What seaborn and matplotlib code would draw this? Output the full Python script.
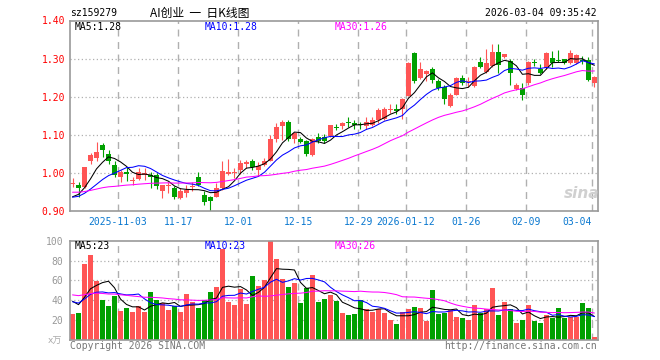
import numpy as np
import pandas as pd
import matplotlib
matplotlib.use('Agg')
import matplotlib.pyplot as plt
import seaborn as sns

# daily K data, 2025-10-22 .. 2026-03-04 (88 sessions)
open_ = [0.972, 0.969, 0.963, 1.033, 1.040, 1.073, 1.051, 1.022, 0.990, 1.002,
         0.980, 0.984, 0.994, 0.996, 0.995, 0.952, 0.966, 0.962, 0.934, 0.948,
         0.963, 0.989, 0.943, 0.938, 0.938, 0.961, 0.998, 1.000, 1.008, 1.025,
         1.031, 1.009, 1.022, 1.033, 1.090, 1.123, 1.133, 1.089, 1.089, 1.083,
         1.048, 1.095, 1.094, 1.098, 1.121, 1.124, 1.134, 1.132, 1.127, 1.124,
         1.127, 1.138, 1.143, 1.166, 1.168, 1.168, 1.203, 1.314, 1.250, 1.259,
         1.272, 1.242, 1.225, 1.177, 1.206, 1.250, 1.238, 1.229, 1.292, 1.264,
         1.281, 1.318, 1.305, 1.295, 1.221, 1.224, 1.237, 1.292, 1.274, 1.276,
         1.301, 1.297, 1.298, 1.289, 1.289, 1.297, 1.296, 1.237]
high = [0.987, 0.976, 1.017, 1.054, 1.081, 1.080, 1.061, 1.031, 1.009, 1.016,
        0.989, 1.013, 1.013, 1.004, 1.000, 0.970, 0.976, 0.965, 0.961, 0.969,
        0.978, 1.002, 0.952, 0.940, 0.974, 1.031, 1.038, 1.013, 1.034, 1.035,
        1.037, 1.028, 1.039, 1.101, 1.132, 1.138, 1.138, 1.109, 1.095, 1.086,
        1.092, 1.105, 1.102, 1.127, 1.129, 1.135, 1.147, 1.138, 1.134, 1.147,
        1.147, 1.171, 1.174, 1.180, 1.180, 1.197, 1.291, 1.318, 1.292, 1.270,
        1.279, 1.247, 1.230, 1.209, 1.252, 1.256, 1.252, 1.282, 1.305, 1.326,
        1.338, 1.338, 1.313, 1.299, 1.235, 1.237, 1.293, 1.300, 1.285, 1.318,
        1.320, 1.322, 1.300, 1.324, 1.311, 1.307, 1.305, 1.255]
low = [0.963, 0.938, 0.960, 1.023, 1.033, 1.042, 1.024, 0.989, 0.976, 0.980,
       0.969, 0.982, 0.982, 0.960, 0.958, 0.936, 0.949, 0.932, 0.932, 0.938,
       0.952, 0.965, 0.917, 0.902, 0.937, 0.957, 0.996, 0.987, 0.998, 1.013,
       1.007, 0.993, 1.020, 1.031, 1.081, 1.088, 1.083, 1.079, 1.080, 1.044,
       1.045, 1.079, 1.080, 1.096, 1.112, 1.115, 1.122, 1.115, 1.115, 1.115,
       1.124, 1.131, 1.140, 1.158, 1.155, 1.143, 1.202, 1.235, 1.248, 1.241,
       1.237, 1.219, 1.180, 1.173, 1.204, 1.230, 1.225, 1.225, 1.276, 1.262,
       1.279, 1.263, 1.302, 1.232, 1.219, 1.191, 1.232, 1.280, 1.259, 1.274,
       1.279, 1.290, 1.286, 1.285, 1.287, 1.285, 1.241, 1.226]
close = [0.975, 0.962, 1.015, 1.048, 1.056, 1.061, 1.033, 0.994, 1.003, 0.998,
         0.983, 1.004, 1.000, 0.990, 0.965, 0.969, 0.970, 0.938, 0.954, 0.956,
         0.966, 0.969, 0.925, 0.928, 0.961, 1.006, 1.002, 1.003, 1.027, 1.028,
         1.015, 1.020, 1.033, 1.089, 1.122, 1.133, 1.089, 1.105, 1.082, 1.051,
         1.089, 1.083, 1.084, 1.125, 1.119, 1.132, 1.131, 1.126, 1.125, 1.133,
         1.138, 1.165, 1.167, 1.169, 1.163, 1.193, 1.289, 1.241, 1.272, 1.267,
         1.245, 1.224, 1.193, 1.206, 1.249, 1.236, 1.241, 1.278, 1.279, 1.288,
         1.317, 1.283, 1.311, 1.263, 1.232, 1.206, 1.291, 1.289, 1.263, 1.316,
         1.288, 1.295, 1.288, 1.314, 1.309, 1.294, 1.243, 1.253]
volume = [26, 27, 77, 86, 59, 40, 34, 44, 29, 32, 28, 34, 28, 48, 40, 37, 30, 34,
          28, 46, 38, 32, 40, 48, 53, 92, 38, 35, 51, 36, 64, 54, 60, 99.5, 82, 61,
          53, 57, 37, 52, 65, 38, 41, 45, 39, 27, 25, 26, 40, 31, 28, 31, 27, 20,
          16, 28, 31, 33, 32, 19, 50, 26, 27, 30, 23, 22, 20, 35, 27, 31, 52, 25,
          38, 31, 17, 20, 35, 19, 17, 25, 22, 32, 22, 23, 23, 37, 32, 3]

# sessions before the visible window (only feed the moving averages)
earlier_close = [0.960, 0.965, 0.958, 0.950, 0.955, 0.962, 0.960, 0.952, 0.948, 0.955,
                 0.960, 0.965, 0.958, 0.950, 0.955, 0.958, 0.960, 0.952, 0.950, 0.957,
                 0.940, 0.935, 0.938, 0.932, 0.935, 0.930, 0.928, 0.932, 0.925]
earlier_vol = [50, 48, 52, 47, 49, 51, 46, 50, 48, 49, 52, 47, 50, 48, 49, 51, 47, 50, 48, 46,
               40, 36, 38, 39, 37, 44, 40, 43, 42]

date_ticks = [8, 18, 28, 38, 48, 56, 66, 76, 87]
date_labels = ['2025-11-03', '11-17', '12-01', '12-15', '12-29', '2026-01-12',
               '01-26', '02-09', '03-04']
price_ticks = [0.90, 1.00, 1.10, 1.20, 1.30, 1.40]
vol_ticks = [20, 40, 60, 80, 100]

RED = '#ff5555'
GREEN = '#00a000'
GRID = '#b0b0b0'

sns.set_style('white')
plt.rcParams['font.family'] = ['DejaVu Sans Mono', 'Noto Sans CJK SC']

df = pd.DataFrame({'open': open_, 'high': high, 'low': low, 'close': close, 'vol': volume})
df['idx'] = np.arange(len(df))
n0 = len(earlier_close)
all_close = pd.Series(earlier_close + close)
all_vol = pd.Series(earlier_vol + volume)
for w in (5, 10, 30):
    df[f'ma{w}'] = all_close.rolling(w).mean().iloc[n0:].values
    df[f'vma{w}'] = all_vol.rolling(w).mean().iloc[n0:].values

up = df['close'] >= df['open']
colors = np.where(up, RED, GREEN)

W, H = 660, 360
fig = plt.figure(figsize=(6.6, 3.6), dpi=100)
ax = fig.add_axes([70 / W, 1 - 211.3 / H, 527.7 / W, 190.8 / H])
axv = fig.add_axes([70 / W, 1 - 340 / H, 527.7 / W, 99.3 / H])

# --- price panel
ax.vlines(df['idx'], df['low'], df['high'], colors=colors, lw=0.8, zorder=2)
body_bot = np.minimum(df['open'], df['close'])
body_h = np.maximum((df['close'] - df['open']).abs(), 0.0027)
ax.bar(df['idx'], body_h, bottom=body_bot, width=0.82, color=colors, linewidth=0, zorder=2)
sns.lineplot(data=df, x='idx', y='ma5', color='black', lw=0.75, ax=ax, zorder=3, legend=False)
sns.lineplot(data=df, x='idx', y='ma10', color='#0000ff', lw=0.75, ax=ax, zorder=3, legend=False)
sns.lineplot(data=df, x='idx', y='ma30', color='#ff00ff', lw=0.75, ax=ax, zorder=3, legend=False)

# --- volume panel
axv.bar(df['idx'], df['vol'], width=0.82, color=colors, linewidth=0, zorder=2)
sns.lineplot(data=df, x='idx', y='vma5', color='black', lw=0.75, ax=axv, zorder=3, legend=False)
sns.lineplot(data=df, x='idx', y='vma10', color='#0000ff', lw=0.75, ax=axv, zorder=3, legend=False)
sns.lineplot(data=df, x='idx', y='vma30', color='#ff00ff', lw=0.75, ax=axv, zorder=3, legend=False)

grid_x = [t - 0.4 for t in date_ticks]
for a in (ax, axv):
    a.set_xlim(-0.42, 87.55)
    a.set_xlabel('')
    a.set_ylabel('')
    for x in grid_x:
        a.axvline(x, color=GRID, lw=1, linestyle=(0, (5, 4)), zorder=1)
    for s in a.spines.values():
        s.set_color('#999999')
        s.set_linewidth(1.2)
    a.tick_params(length=0)

ax.set_ylim(0.90, 1.40)
for y in price_ticks[1:-1]:
    ax.axhline(y, color=GRID, lw=0.9, linestyle=(0, (1, 2)), zorder=1)
ax.set_yticks(price_ticks)
ax.set_yticklabels([f'{v:.2f}' for v in price_ticks], color='#ff0000', fontsize=7)
ax.tick_params(axis='y', pad=3.5)
ax.set_xticks(grid_x)
ax.set_xticklabels(date_labels, color='#0a78d0', fontsize=7)
ax.tick_params(axis='x', pad=4)
ax.get_xticklabels()[-1].set_ha('right')

axv.set_ylim(0, 100)
for y in vol_ticks[:-1]:
    axv.axhline(y, color=GRID, lw=0.9, linestyle=(0, (1, 2)), zorder=1)
axv.set_yticks(vol_ticks)
axv.set_yticklabels([str(v) for v in vol_ticks], color='#999999', fontsize=7)
axv.tick_params(axis='y', pad=5)
axv.set_xticks([])

def px(x, y):
    return x / W, 1 - y / H

# header
fig.text(*px(70, 13), 'sz159279', fontsize=7, color='black', va='center')
fig.text(*px(150, 13), 'AI创业  一  日K线图', fontsize=8.5, color='black', va='center',
         family=['Noto Sans CJK SC', 'DejaVu Sans'])
fig.text(*px(597, 13), '2026-03-04 09:35:42', fontsize=7, color='black', va='center', ha='right')

# MA labels
fig.text(*px(75, 27), 'MA5:1.28', fontsize=7, color='black', va='center')
fig.text(*px(205, 27), 'MA10:1.28', fontsize=7, color='#0000ff', va='center')
fig.text(*px(335, 27), 'MA30:1.26', fontsize=7, color='#ff00ff', va='center')
fig.text(*px(75, 246), 'MA5:23', fontsize=7, color='black', va='center')
fig.text(*px(205, 246), 'MA10:23', fontsize=7, color='#0000ff', va='center')
fig.text(*px(335, 246), 'MA30:26', fontsize=7, color='#ff00ff', va='center')

# watermark and footer
fig.text(*px(582, 193), 'sina', fontsize=11, color='#d0d0d0', va='center', ha='center',
         style='italic', weight='bold', family='DejaVu Sans')
fig.text(*px(62, 341), 'x万', fontsize=6.5, color='#aaaaaa', va='center', ha='right',
         family=['DejaVu Sans', 'Noto Sans CJK SC'])
fig.text(*px(70, 346), 'Copyright 2026 SINA.COM', fontsize=7, color='#777777', va='center')
fig.text(*px(597, 346), 'http://finance.sina.com.cn', fontsize=7, color='#777777',
         va='center', ha='right')

fig.savefig('out.png', dpi=100)
